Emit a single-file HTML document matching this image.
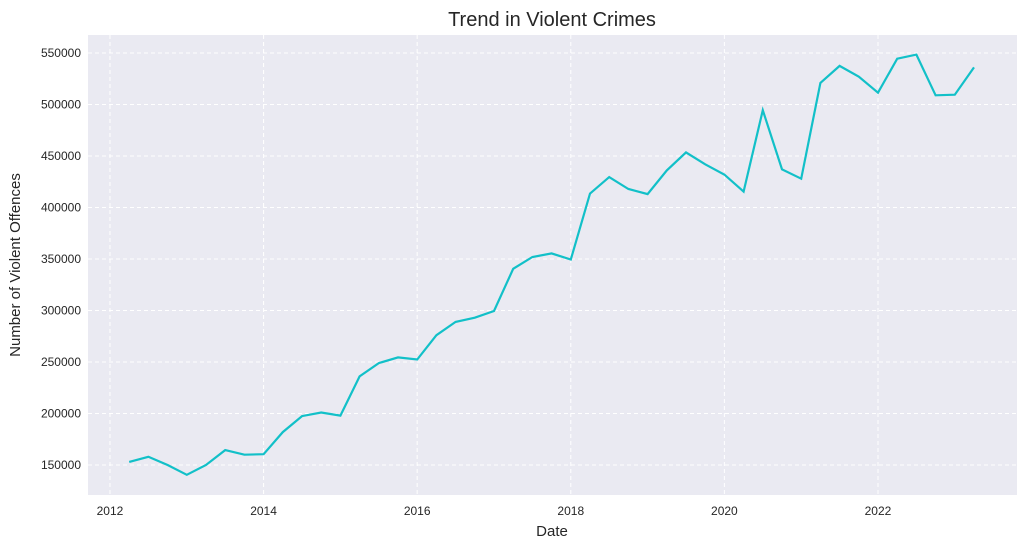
<!DOCTYPE html>
<html><head><meta charset="utf-8"><style>
body{margin:0;background:#fff;font-family:"Liberation Sans",sans-serif;}
</style></head><body>
<svg id="chart" width="1026" height="548" xmlns="http://www.w3.org/2000/svg">
<text x="552" y="26" text-anchor="middle" font-size="20" fill="#262626">Trend in Violent Crimes</text>
<rect x="88" y="35" width="929" height="460" fill="#eaeaf2"/>
<g id="grid"></g><g id="ticks"></g>
<text x="552" y="536" text-anchor="middle" font-size="15" fill="#262626">Date</text>
<text transform="translate(20,265) rotate(-90)" text-anchor="middle" font-size="15" fill="#262626">Number of Violent Offences</text>
<path id="line" fill="none" stroke="#12c0c8" stroke-width="2.2"/>
</svg>
<script>
const startYear = 2012.25;
const values = [153000,158000,150000,140500,150000,164500,160000,160500,182000,197500,201000,198000,236000,249000,254500,252500,276000,289000,293000,299500,340500,352000,355500,349500,413500,429500,418000,413000,436000,453500,442000,432000,415500,494500,437000,428000,521000,537500,527000,511500,544500,548500,509000,509500,536000];
const xTicks = [2012,2014,2016,2018,2020,2022];
const yTicks = [150000,200000,250000,300000,350000,400000,450000,500000,550000];
const X0=88,X1=1017,Y0=495,Y1=35;
const xMin=2011.714,xMax=2023.81,yMin=120900,yMax=567500;
const sx=v=>X0+(v-xMin)/(xMax-xMin)*(X1-X0);
const sy=v=>Y0-(v-yMin)/(yMax-yMin)*(Y0-Y1);
const NS="http://www.w3.org/2000/svg";
const grid=document.getElementById('grid'),ticks=document.getElementById('ticks');
xTicks.forEach(t=>{
 const l=document.createElementNS(NS,'line');
 l.setAttribute('x1',sx(t));l.setAttribute('x2',sx(t));l.setAttribute('y1',Y1);l.setAttribute('y2',Y0);
 l.setAttribute('stroke','#fff');l.setAttribute('stroke-dasharray','4,3');
 
 
 grid.appendChild(l);
 const tx=document.createElementNS(NS,'text');
 tx.setAttribute('x',sx(t));tx.setAttribute('y',Y0+20);tx.setAttribute('text-anchor','middle');
 tx.setAttribute('font-size','12');tx.setAttribute('fill','#262626');tx.textContent=t;
 
 
 ticks.appendChild(tx);
});
yTicks.forEach(t=>{
 const l=document.createElementNS(NS,'line');
 l.setAttribute('x1',X0);l.setAttribute('x2',X1);l.setAttribute('y1',sy(t));l.setAttribute('y2',sy(t));
 l.setAttribute('stroke','#fff');l.setAttribute('stroke-dasharray','4,3');
 
 
 grid.appendChild(l);
 const tx=document.createElementNS(NS,'text');
 tx.setAttribute('x',X0-7);tx.setAttribute('y',sy(t)+4);tx.setAttribute('text-anchor','end');
 tx.setAttribute('font-size','12');tx.setAttribute('fill','#262626');tx.textContent=t;
 
 
 ticks.appendChild(tx);
});
document.getElementById('line').setAttribute('d',values.map((v,i)=>(i?'L':'M')+sx(startYear+i*0.25).toFixed(1)+','+sy(v).toFixed(1)).join(''));
</script>
</body></html>
